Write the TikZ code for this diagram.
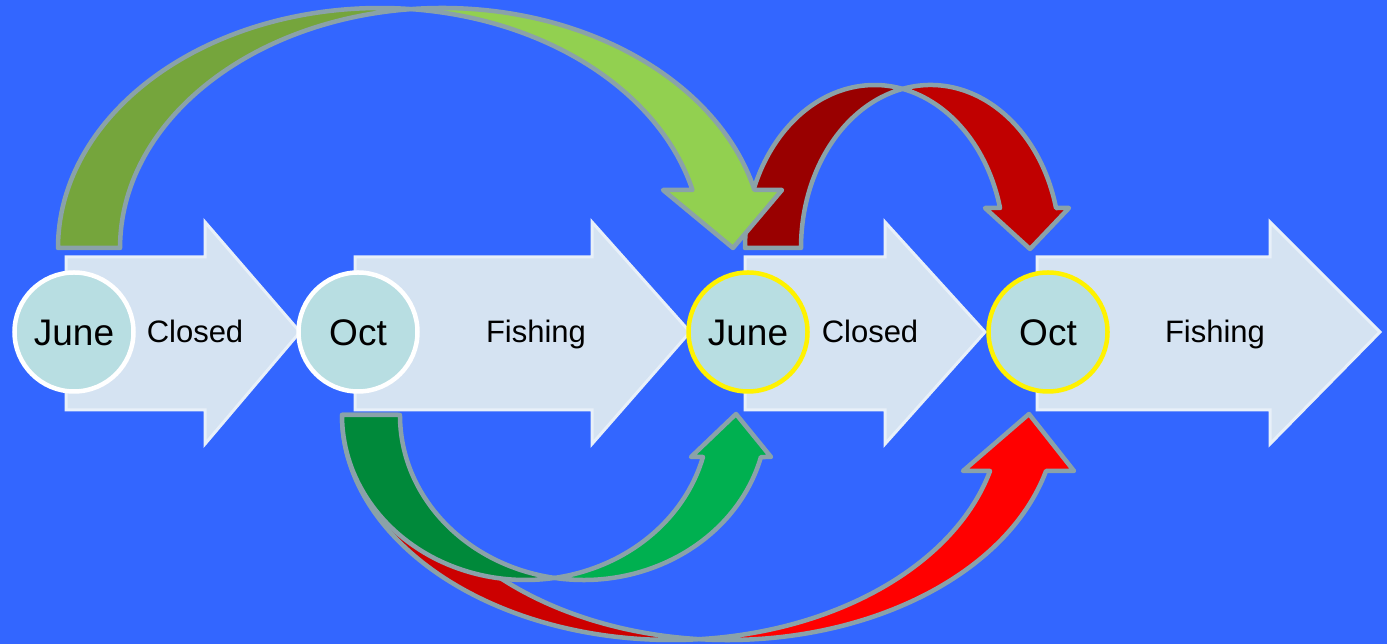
\documentclass[tikz,border=0pt]{standalone}
\usepackage{fontspec}
\setmainfont{Liberation Sans}
\definecolor{bg}{RGB}{51,102,255}
\definecolor{blockfill}{RGB}{213,227,242}
\definecolor{blockline}{RGB}{232,240,249}
\definecolor{circfill}{RGB}{184,222,226}
\definecolor{outl}{RGB}{138,162,169}
\definecolor{tgdark}{RGB}{117,165,60}
\definecolor{tglight}{RGB}{146,208,80}
\definecolor{trdark}{RGB}{153,0,0}
\definecolor{trlight}{RGB}{192,0,0}
\definecolor{bgdark}{RGB}{0,137,58}
\definecolor{bglight}{RGB}{0,176,80}
\definecolor{brdark}{RGB}{204,0,0}
\definecolor{brlight}{RGB}{255,0,0}
\begin{document}
\begin{tikzpicture}[x=1pt,y=1pt,
  blockarrow/.style={fill=blockfill,draw=blockline,line width=3pt,line join=miter},
  circ/.style={circle,fill=circfill,line width=4.5pt,minimum size=119pt,inner sep=0pt,
    text height=26.5pt,text depth=0pt,font=\fontsize{37}{40}\selectfont},
  lbl/.style={font=\fontsize{31}{34}\selectfont,inner sep=0pt,anchor=base},
  band/.style={draw=outl,line width=4.5pt,line join=round}]
\fill[bg] (0,0) rectangle (1387,644);
\useasboundingbox (0,0) rectangle (1387,644);
% block arrows
\draw[blockarrow] (66,234) -- (205,234) -- (205,200) -- (300,312) -- (205,422) -- (205,387) -- (66,387) -- cycle;
\draw[blockarrow] (355,234) -- (592,234) -- (592,200) -- (690,312) -- (592,422) -- (592,387) -- (355,387) -- cycle;
\draw[blockarrow] (745,234) -- (885,234) -- (885,200) -- (985,312) -- (885,422) -- (885,387) -- (745,387) -- cycle;
\draw[blockarrow] (1037,234) -- (1270,234) -- (1270,200) -- (1380,312) -- (1270,422) -- (1270,387) -- (1037,387) -- cycle;
% circles
\node[circ,draw=white] (june1) at (74,312) {June};
\node[circ,draw=white] (oct1) at (358,312) {Oct};
\node[circ,draw=yellow] (june2) at (748,312) {June};
\node[circ,draw=yellow] (oct2) at (1048,312) {Oct};
% labels
\node[lbl] (closed1) at (195,301) {Closed};
\node[lbl] (fishing1) at (536,301) {Fishing};
\node[lbl] (closed2) at (870,301) {Closed};
\node[lbl] (fishing2) at (1215,301) {Fishing};
% top red curved arrow
\draw[band,fill=trdark] (745,396)
  arc[start angle=180,end angle=77.51,x radius=129.5pt,y radius=163pt]
  arc[start angle=102.49,end angle=180,x radius=129.5pt,y radius=163pt] -- cycle;
\draw[band,fill=trlight] (902.5,555.14)
  arc[start angle=102.49,end angle=14.2,x radius=129.5pt,y radius=163pt]
  -- (1069,436) -- (1030,395) -- (985,436) -- (1000.04,436)
  arc[start angle=14.2,end angle=77.51,x radius=129.5pt,y radius=163pt] -- cycle;
% top green curved arrow
\draw[band,fill=tgdark] (58,396)
  arc[start angle=180,end angle=84.47,x radius=322pt,y radius=240pt]
  arc[start angle=95.53,end angle=180,x radius=322pt,y radius=240pt] -- cycle;
\draw[band,fill=tglight] (411.03,634.88)
  arc[start angle=95.53,end angle=14,x radius=322pt,y radius=240pt]
  -- (782,454) -- (733,396) -- (663,454) -- (692.43,454.06)
  arc[start angle=14,end angle=84.47,x radius=322pt,y radius=240pt] -- cycle;
% bottom red curved arrow
\draw[band,fill=brdark] (342,229)
  arc[start angle=180,end angle=274.88,x radius=329.2pt,y radius=225pt]
  arc[start angle=265.12,end angle=180,x radius=329.2pt,y radius=225pt] -- cycle;
\draw[band,fill=brlight] (699.2,4.81)
  arc[start angle=265.12,end angle=345.59,x radius=329.2pt,y radius=225pt]
  -- (1074,173) -- (1029,230) -- (963,173) -- (990.03,173)
  arc[start angle=345.59,end angle=274.88,x radius=329.2pt,y radius=225pt] -- cycle;
% bottom green curved arrow
\draw[band,fill=bgdark] (342,229)
  arc[start angle=180,end angle=279.09,x radius=183.5pt,y radius=165pt]
  arc[start angle=260.91,end angle=180,x radius=183.5pt,y radius=165pt] -- cycle;
\draw[band,fill=bglight] (554.5,66.07)
  arc[start angle=260.91,end angle=345.25,x radius=183.5pt,y radius=165pt]
  -- (771,187) -- (736,230) -- (691,187) -- (702.95,187)
  arc[start angle=345.25,end angle=279.09,x radius=183.5pt,y radius=165pt] -- cycle;
\end{tikzpicture}
\end{document}
